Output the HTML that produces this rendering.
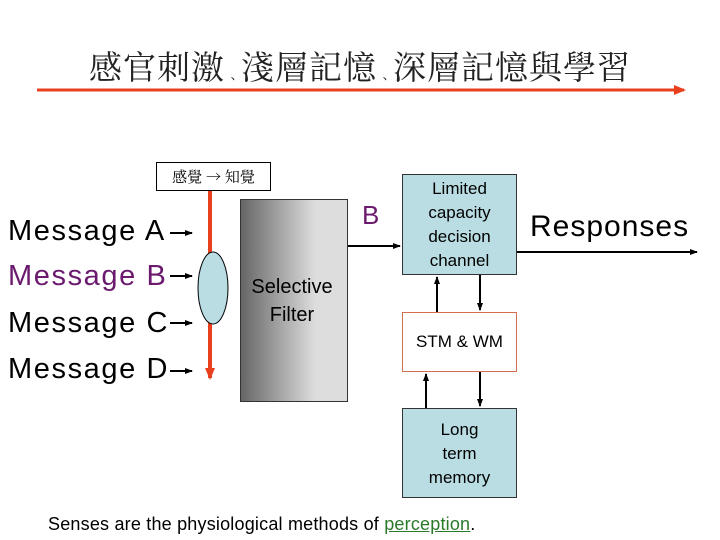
<!DOCTYPE html>
<html><head><meta charset="utf-8"><style>
body{margin:0;width:720px;height:540px;background:#fff;position:relative;overflow:hidden;font-family:"Liberation Sans","Noto Sans CJK TC",sans-serif}
.a{position:absolute}
.msg{position:absolute;left:8px;font-size:29px;line-height:32px;letter-spacing:1.6px}
.box{position:absolute;box-sizing:border-box;border:1px solid #333;background:#b9dde3;text-align:center;font-size:17px;line-height:24px}
</style></head><body>
<div class="a" style="left:0;width:720px;top:44px;text-align:center;font-family:'Noto Serif CJK SC','Noto Sans CJK TC',serif;font-size:33px;line-height:44px;color:#222;letter-spacing:1px">感官刺激<span style="font-size:16px;letter-spacing:0">﹑</span>淺層記憶<span style="font-size:16px;letter-spacing:0">﹑</span>深層記憶與學習</div>
<div class="a" style="left:156px;top:162px;width:115px;height:29px;box-sizing:border-box;border:1px solid #000;font-size:15px;line-height:27px;text-align:center;font-family:'Noto Serif CJK SC',serif">感覺 → 知覺</div>
<div class="msg" style="top:215px">Message A</div>
<div class="msg" style="top:260px;color:#6b1a6e">Message B</div>
<div class="msg" style="top:307px">Message C</div>
<div class="msg" style="top:353px">Message D</div>
<div class="a" style="left:240px;top:199px;width:108px;height:203px;box-sizing:border-box;border:1px solid #333;background:linear-gradient(to right,#666,#ddd 70%,#ddd)"></div>
<div class="a" style="left:240px;top:273px;width:104px;text-align:center;font-size:20px;line-height:28px">Selective<br>Filter</div>
<div class="a" style="left:362px;top:200px;font-size:26px;color:#6b1a6e">B</div>
<div class="box" style="left:402px;top:174px;width:115px;height:101px;padding-top:2px">Limited<br>capacity<br>decision<br>channel</div>
<div class="box" style="left:402px;top:312px;width:115px;height:60px;background:#fff;border-color:#d07050;line-height:58px">STM &amp; WM</div>
<div class="box" style="left:402px;top:408px;width:115px;height:90px;padding-top:9px">Long<br>term<br>memory</div>
<div class="a" style="left:530px;top:210px;font-size:30px;letter-spacing:1px">Responses</div>
<div class="a" style="left:48px;top:514px;font-size:18px;letter-spacing:0.2px">Senses are the physiological methods of <span style="color:#2a7a2a;text-decoration:underline">perception</span>.</div>
<svg class="a" style="left:0;top:0" width="720" height="540">
<defs><marker id="k" markerWidth="8" markerHeight="8" refX="7" refY="4" orient="auto" markerUnits="userSpaceOnUse"><path d="M0,1 L8,4 L0,7z" fill="#000"/></marker>
<marker id="r" markerWidth="12" markerHeight="12" refX="10" refY="6" orient="auto" markerUnits="userSpaceOnUse"><path d="M0,1 L12,6 L0,11z" fill="#e8401c"/></marker></defs>
<line x1="37" y1="90" x2="684" y2="90" stroke="#e8401c" stroke-width="3" marker-end="url(#r)"/>
<line x1="210" y1="191" x2="210" y2="378" stroke="#e8401c" stroke-width="4" marker-end="url(#r)"/>
<ellipse cx="213" cy="288" rx="15" ry="36" fill="#b9dde3" stroke="#000"/>
<g stroke="#000" stroke-width="2" marker-end="url(#k)">
<line x1="170" y1="233" x2="192" y2="233"/><line x1="170" y1="276" x2="192" y2="276"/>
<line x1="170" y1="323" x2="192" y2="323"/><line x1="170" y1="371" x2="192" y2="371"/>
<line x1="348" y1="246" x2="400" y2="246"/><line x1="517" y1="252" x2="697" y2="252"/>
<line x1="437" y1="312" x2="437" y2="277"/><line x1="480" y1="275" x2="480" y2="310"/>
<line x1="426" y1="408" x2="426" y2="374"/><line x1="480" y1="372" x2="480" y2="406"/>
</g></svg>
</body></html>
